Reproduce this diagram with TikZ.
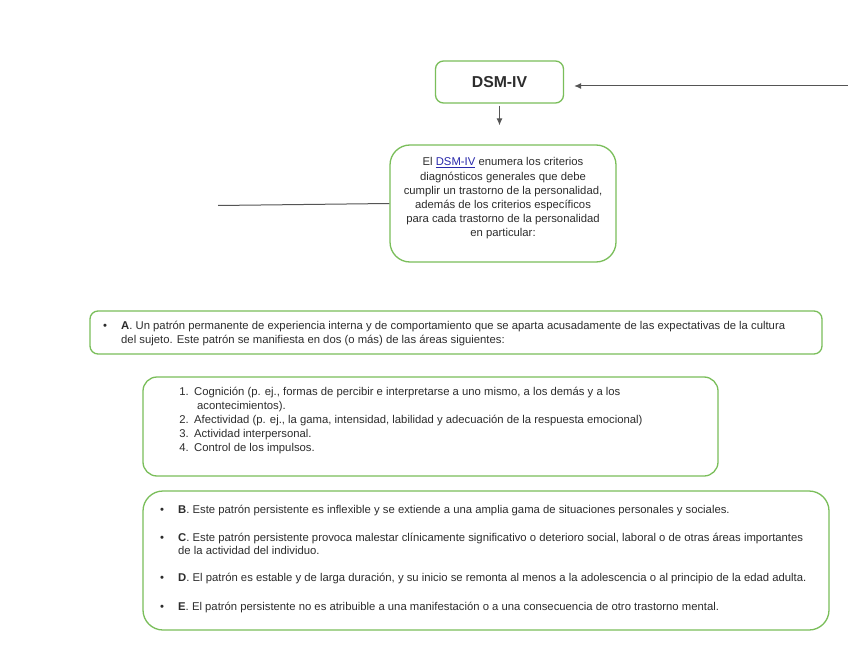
\documentclass[tikz,border=0pt]{standalone}
\usepackage{fontspec}
\setmainfont{Liberation Sans}
\usetikzlibrary{arrows.meta}
\definecolor{boxgreen}{RGB}{122,190,90}
\definecolor{linkblue}{RGB}{40,40,170}
\definecolor{linegray}{RGB}{85,85,85}
\definecolor{txtgray}{RGB}{45,45,45}
\begin{document}
\begin{tikzpicture}[x=1pt,y=-1pt,
  box/.style={draw=boxgreen, line width=1.3pt, inner sep=0pt, fill=white},
  ln/.style={font=\fontsize{11.3}{14}\selectfont, text=txtgray, inner sep=0pt, anchor=base west},
  num/.style={font=\fontsize{11.3}{14}\selectfont, text=txtgray, inner sep=0pt, anchor=base east},
  bul/.style={font=\fontsize{11.3}{14}\selectfont, text=txtgray, inner sep=0pt, anchor=base},
  conn/.style={draw=linegray, line width=1pt},
  arr/.style={conn, -{Latex[length=7pt,width=6pt]}}]
\useasboundingbox[fill=white] (0,0) rectangle (848,655);

% boxes
\node[box, rounded corners=8pt, minimum width=128pt, minimum height=42pt,
      font=\fontsize{15.8}{18}\selectfont\bfseries, text=txtgray] (dsm) at (499.5,82) {DSM-IV};
\node[box, rounded corners=20pt, minimum width=226pt, minimum height=117pt] (desc) at (503,203.5) {};
\node[box, rounded corners=8pt, minimum width=732pt, minimum height=43pt] (boxA) at (456,332.5) {};
\node[box, rounded corners=14pt, minimum width=575pt, minimum height=99pt] (boxN) at (430.5,426.5) {};
\node[box, rounded corners=20pt, minimum width=686pt, minimum height=139pt] (boxB) at (486,560.5) {};

% connectors
\coordinate (rstart) at (848,86);
\coordinate (lstart) at (218,205.5);
\draw[arr, shorten >=10pt] (rstart) -- (rstart -| dsm.east);
\draw[arr, shorten <=2pt, shorten >=19pt] (dsm.south) -- (dsm.south |- desc.north);
\draw[conn] (lstart) -- (desc.west);

% description text
\node[font=\fontsize{11.3}{14.2}\selectfont, text=txtgray, inner sep=0pt, align=center] (desctxt) at (503,198.5)
  {El \textcolor{linkblue}{\underline{DSM-IV}} enumera los criterios\\
   diagnósticos generales que debe\\
   cumplir un trastorno de la personalidad,\\
   además de los criterios específicos\\
   para cada trastorno de la personalidad\\
   en particular:};

% A box
\node[bul] (bA) at (105,329.5) {\textbullet};
\node[ln] (a1) at (121,329.5) {\textbf{A}. Un patrón permanente de experiencia interna y de comportamiento que se aparta acusadamente de las expectativas de la cultura};
\node[ln] (a2) at (121,343.5) {del sujeto. Este patrón se manifiesta en dos (o más) de las áreas siguientes:};

% numbered box
\node[num] (n1) at (189,395.5) {1.};
\node[ln] (t1) at (194,395.5) {Cognición (p. ej., formas de percibir e interpretarse a uno mismo, a los demás y a los};
\node[ln] (t1b) at (197,409.5) {acontecimientos).};
\node[num] (n2) at (189,423.5) {2.};
\node[ln] (t2) at (194,423.5) {Afectividad (p. ej., la gama, intensidad, labilidad y adecuación de la respuesta emocional)};
\node[num] (n3) at (189,437.5) {3.};
\node[ln] (t3) at (194,437.5) {Actividad interpersonal.};
\node[num] (n4) at (189,451.5) {4.};
\node[ln] (t4) at (194,451.5) {Control de los impulsos.};

% B-E box
\node[bul] (bB) at (162,513.5) {\textbullet};
\node[ln] (tB) at (178,513.5) {\textbf{B}. Este patrón persistente es inflexible y se extiende a una amplia gama de situaciones personales y sociales.};
\node[bul] (bC) at (162,541.5) {\textbullet};
\node[ln] (tC) at (178,541.5) {\textbf{C}. Este patrón persistente provoca malestar clínicamente significativo o deterioro social, laboral o de otras áreas importantes};
\node[ln] (tC2) at (178,554.5) {de la actividad del individuo.};
\node[bul] (bD) at (162,581.5) {\textbullet};
\node[ln] (tD) at (178,581.5) {\textbf{D}. El patrón es estable y de larga duración, y su inicio se remonta al menos a la adolescencia o al principio de la edad adulta.};
\node[bul] (bE) at (162,610.5) {\textbullet};
\node[ln] (tE) at (178,610.5) {\textbf{E}. El patrón persistente no es atribuible a una manifestación o a una consecuencia de otro trastorno mental.};
\end{tikzpicture}
\end{document}
